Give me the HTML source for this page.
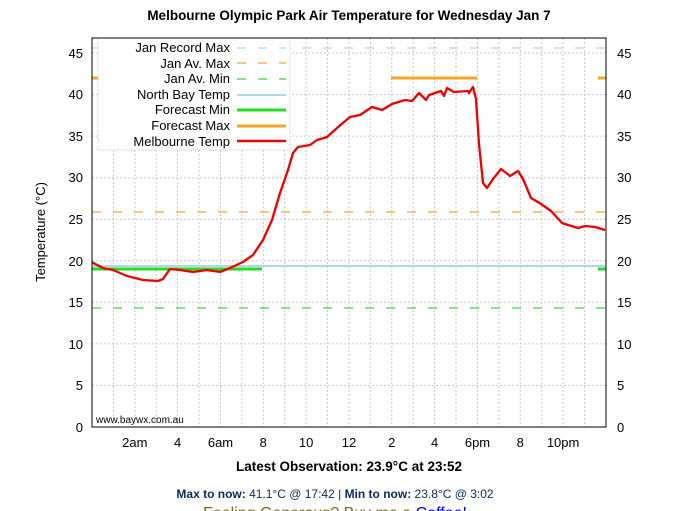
<!DOCTYPE html>
<html><head><meta charset="utf-8"><style>
body{margin:0;background:#fff;width:683px;height:511px;overflow:hidden;font-family:"Liberation Sans",sans-serif;position:relative}
</style></head><body>
<svg width="683" height="511" style="position:absolute;left:0;top:0" font-family="Liberation Sans, sans-serif">
<text x="349" y="20" text-anchor="middle" font-size="13.5" font-weight="bold">Melbourne Olympic Park Air Temperature  for Wednesday Jan 7</text>
<g stroke="#c8c8c8" stroke-dasharray="2,2" stroke-width="1">
<line x1="113.4" y1="38" x2="113.4" y2="427"/><line x1="134.8" y1="38" x2="134.8" y2="427"/><line x1="156.2" y1="38" x2="156.2" y2="427"/><line x1="177.6" y1="38" x2="177.6" y2="427"/><line x1="199" y1="38" x2="199" y2="427"/><line x1="220.5" y1="38" x2="220.5" y2="427"/><line x1="241.9" y1="38" x2="241.9" y2="427"/><line x1="263.3" y1="38" x2="263.3" y2="427"/><line x1="284.7" y1="38" x2="284.7" y2="427"/><line x1="306.1" y1="38" x2="306.1" y2="427"/><line x1="327.5" y1="38" x2="327.5" y2="427"/><line x1="349" y1="38" x2="349" y2="427"/><line x1="370.4" y1="38" x2="370.4" y2="427"/><line x1="391.8" y1="38" x2="391.8" y2="427"/><line x1="413.2" y1="38" x2="413.2" y2="427"/><line x1="434.6" y1="38" x2="434.6" y2="427"/><line x1="456" y1="38" x2="456" y2="427"/><line x1="477.5" y1="38" x2="477.5" y2="427"/><line x1="498.9" y1="38" x2="498.9" y2="427"/><line x1="520.3" y1="38" x2="520.3" y2="427"/><line x1="541.7" y1="38" x2="541.7" y2="427"/><line x1="563.1" y1="38" x2="563.1" y2="427"/><line x1="584.5" y1="38" x2="584.5" y2="427"/>
<line x1="92" y1="385.4" x2="606" y2="385.4"/><line x1="92" y1="343.9" x2="606" y2="343.9"/><line x1="92" y1="302.3" x2="606" y2="302.3"/><line x1="92" y1="260.8" x2="606" y2="260.8"/><line x1="92" y1="219.2" x2="606" y2="219.2"/><line x1="92" y1="177.7" x2="606" y2="177.7"/><line x1="92" y1="136.1" x2="606" y2="136.1"/><line x1="92" y1="94.6" x2="606" y2="94.6"/><line x1="92" y1="53" x2="606" y2="53"/>
</g>
<g stroke-width="1.2" fill="none">
<line x1="92" y1="48" x2="606" y2="48" stroke="#add8e6" stroke-dasharray="9,12"/>
<line x1="92" y1="212" x2="606" y2="212" stroke="#f0a830" stroke-dasharray="9,12"/>
<line x1="92" y1="308" x2="606" y2="308" stroke="#33dd33" stroke-dasharray="9,12"/>
</g>
<line x1="92" y1="266" x2="606" y2="266" stroke="#add8e6" stroke-width="2"/>
<g stroke-width="3">
<line x1="92" y1="269" x2="262" y2="269" stroke="#22dd22"/><line x1="598" y1="269" x2="606" y2="269" stroke="#22dd22"/>
<line x1="391" y1="78" x2="477" y2="78" stroke="#f5a623"/><line x1="92" y1="78" x2="100" y2="78" stroke="#f5a623"/><line x1="598" y1="78" x2="606" y2="78" stroke="#f5a623"/>
</g>
<rect x="98" y="38" width="192" height="112" fill="#fff" stroke="#ccc" stroke-dasharray="1,1"/>
<g font-size="13" text-anchor="end" fill="#000">
<text x="230" y="52">Jan Record Max</text><text x="230" y="68">Jan Av. Max</text><text x="230" y="83">Jan Av. Min</text><text x="230" y="99">North Bay Temp</text><text x="230" y="114">Forecast Min</text><text x="230" y="130">Forecast Max</text><text x="230" y="146">Melbourne Temp</text>
</g>
<line x1="237" y1="48" x2="286" y2="48" stroke="#add8e6" stroke-width="1.2" stroke-dasharray="9,12"/>
<line x1="237" y1="63" x2="286" y2="63" stroke="#f0a830" stroke-width="1.2" stroke-dasharray="9,12"/>
<line x1="237" y1="79" x2="286" y2="79" stroke="#33dd33" stroke-width="1.2" stroke-dasharray="9,12"/>
<line x1="237" y1="95" x2="286" y2="95" stroke="#add8e6" stroke-width="2"/>
<line x1="237" y1="110" x2="286" y2="110" stroke="#22dd22" stroke-width="3"/>
<line x1="237" y1="126" x2="286" y2="126" stroke="#f5a623" stroke-width="3"/>
<line x1="237" y1="141" x2="286" y2="141" stroke="#e00" stroke-width="2.5"/>
<polyline fill="none" stroke="#e00" stroke-width="2.3" stroke-linejoin="round" points="92,262.3 103,268 113,270 127,276 143,280 158,281 163,279 170,269 180,270 193,272 207,270 220,272 230,268 243,262 253,255 263,240 272,220 280,193 288,170 293,153 298,147 310,145 317,140 327,137 337,128 350,117 360,115 372,107 382,110 392,104 405,100 412,101 419,93 426,100 429,95 441,91 444,96 447,88 454,92 468,91 469,93 473,87 476,99 479,144 483,183 487,188 493,179 501,169 510,176 518,171 523,179 531,198 541,204 551,211 562,223 568,225 578,228 585,226 595,227 605,230"/>
<rect x="92" y="38" width="514" height="389" fill="none" stroke="#000" stroke-width="1"/>
<g font-size="13" fill="#000">
<g text-anchor="end"><text x="83" y="432">0</text><text x="83" y="390">5</text><text x="83" y="349">10</text><text x="83" y="307">15</text><text x="83" y="266">20</text><text x="83" y="224">25</text><text x="83" y="182">30</text><text x="83" y="141">35</text><text x="83" y="99">40</text><text x="83" y="58">45</text></g>
<g><text x="617" y="432">0</text><text x="617" y="390">5</text><text x="617" y="349">10</text><text x="617" y="307">15</text><text x="617" y="266">20</text><text x="617" y="224">25</text><text x="617" y="182">30</text><text x="617" y="141">35</text><text x="617" y="99">40</text><text x="617" y="58">45</text></g>
<g text-anchor="middle"><text x="134.8" y="447">2am</text><text x="177.6" y="447">4</text><text x="220.5" y="447">6am</text><text x="263.3" y="447">8</text><text x="306.1" y="447">10</text><text x="349" y="447">12</text><text x="391.8" y="447">2</text><text x="434.6" y="447">4</text><text x="477.5" y="447">6pm</text><text x="520.3" y="447">8</text><text x="563.1" y="447">10pm</text></g>
<text transform="translate(45,232) rotate(-90)" text-anchor="middle">Temperature (°C)</text>
</g>
<text x="96" y="423" font-size="10" fill="#000">www.baywx.com.au</text>
<text x="349" y="471" font-size="13.5" font-weight="bold" text-anchor="middle">Latest Observation: 23.9°C at 23:52</text>
<text x="335" y="498" font-size="12" text-anchor="middle" fill="#0a2a5a"><tspan font-weight="bold">Max to now:</tspan> 41.1°C @ 17:42  |  <tspan font-weight="bold">Min to now:</tspan> 23.8°C @ 3:02</text>
<text x="335" y="518" font-size="16" text-anchor="middle" fill="#7a6a10">Feeling Generous? Buy me a <tspan fill="#0000ee">Coffee!</tspan></text>
</svg>
</body></html>
